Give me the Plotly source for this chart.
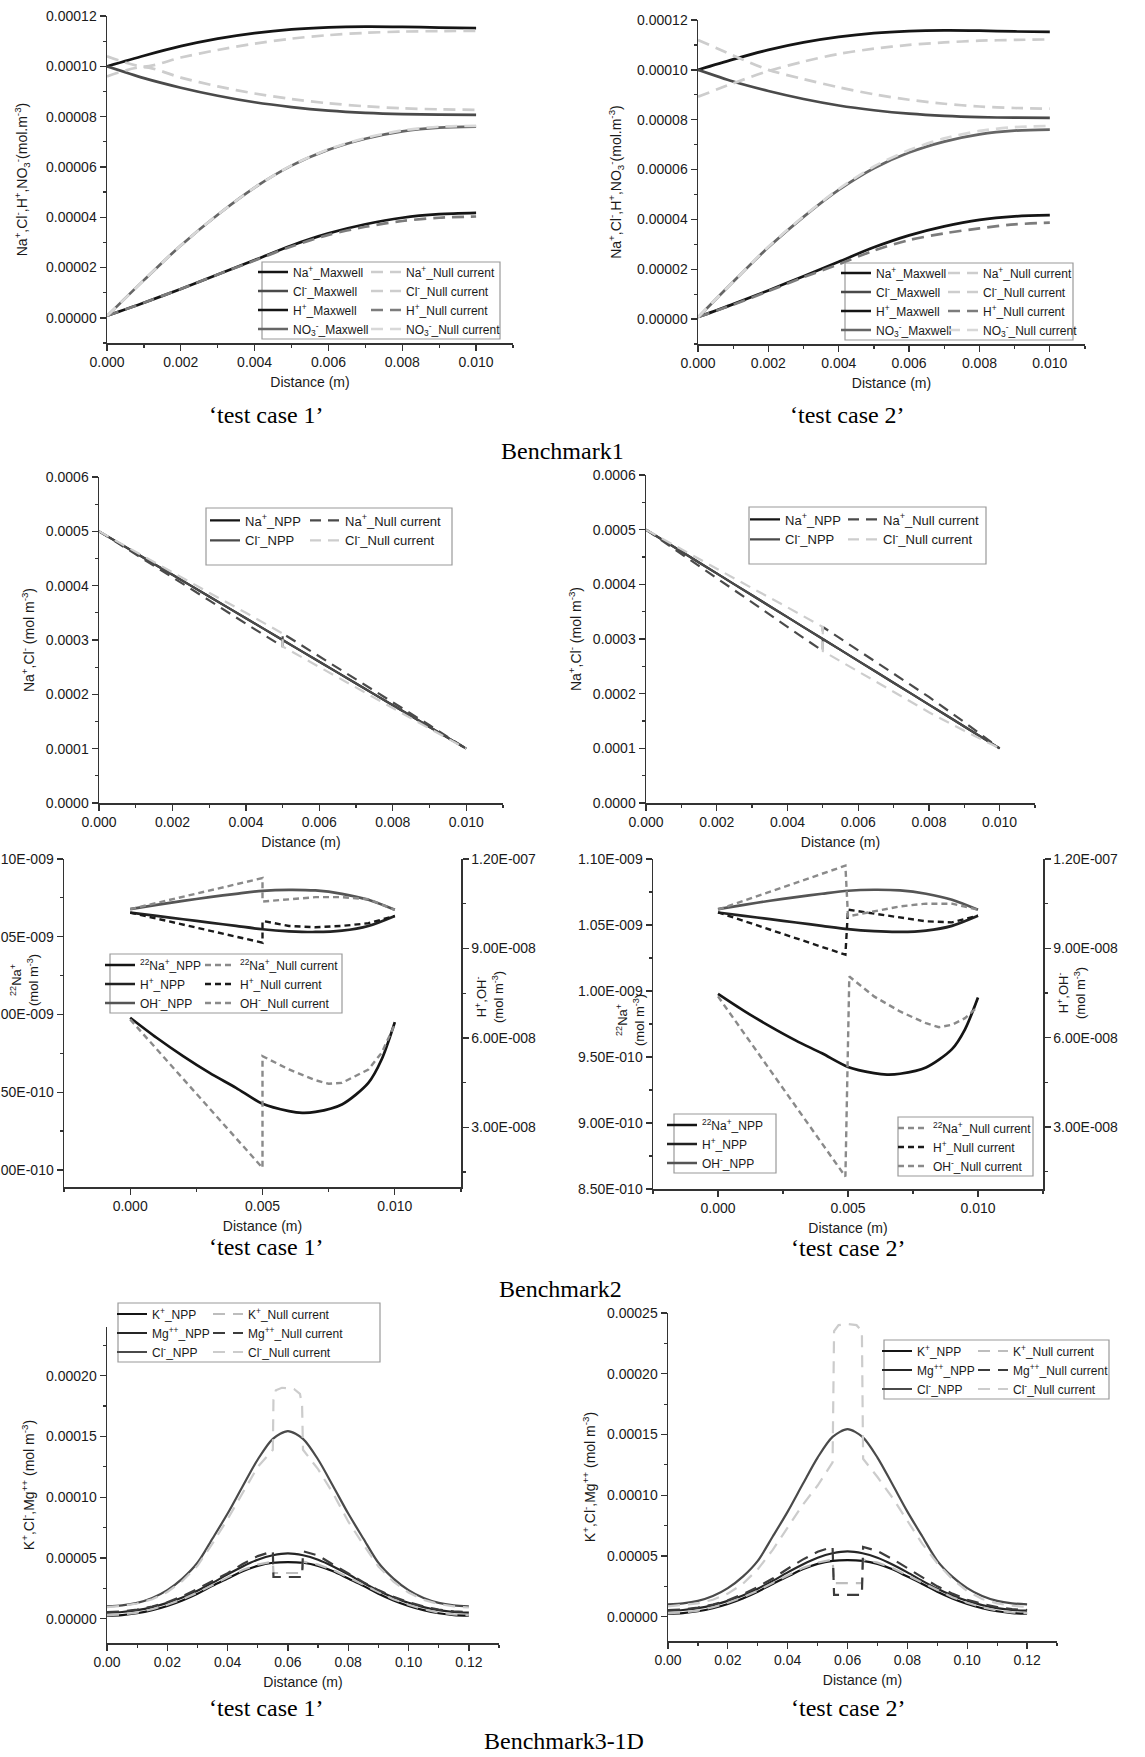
import plotly.graph_objects as go

W, H = 1145, 1757
FONT = "Liberation Sans, Arial, sans-serif"
SERIF = "Liberation Serif, Times New Roman, serif"

# ---------------- Benchmark 1 (values in 1e-5 mol m-3) ----------------
B1_X = [0.000, 0.001, 0.002, 0.003, 0.004, 0.005, 0.006, 0.007, 0.008, 0.009, 0.010]
B1_NA_MAXWELL = [10.0, 10.42, 10.80, 11.10, 11.32, 11.47, 11.55, 11.58, 11.57, 11.54, 11.52]
B1_CL_MAXWELL = [10.0, 9.53, 9.15, 8.83, 8.57, 8.38, 8.24, 8.15, 8.10, 8.08, 8.07]
B1_H_MAXWELL = [0.08, 0.60, 1.15, 1.72, 2.30, 2.88, 3.36, 3.72, 3.98, 4.12, 4.17]
B1_NO3_MAXWELL = [0.07, 1.50, 2.88, 4.10, 5.18, 6.05, 6.68, 7.12, 7.41, 7.56, 7.60]
B1_TC1_NA_NULL = [10.4, 9.99, 10.35, 10.65, 10.90, 11.10, 11.24, 11.33, 11.38, 11.40, 11.41]
B1_TC1_CL_NULL = [9.6, 9.97, 9.55, 9.20, 8.92, 8.70, 8.53, 8.41, 8.33, 8.29, 8.27]
B1_TC1_H_NULL = [0.08, 0.60, 1.15, 1.72, 2.28, 2.84, 3.30, 3.62, 3.85, 3.98, 4.03]
B1_TC1_NO3_NULL = [0.07, 1.50, 2.88, 4.10, 5.18, 6.06, 6.70, 7.15, 7.45, 7.60, 7.63]
B1_TC2_NA_NULL = [8.92, 9.46, 9.95, 10.33, 10.64, 10.85, 11.00, 11.10, 11.17, 11.20, 11.22]
B1_TC2_CL_NULL = [11.20, 10.58, 10.00, 9.63, 9.30, 9.02, 8.80, 8.64, 8.53, 8.47, 8.44]
B1_TC2_H_NULL = [0.08, 0.58, 1.12, 1.68, 2.20, 2.75, 3.17, 3.44, 3.64, 3.80, 3.87]
B1_TC2_NO3_NULL = [0.07, 1.50, 2.90, 4.12, 5.22, 6.12, 6.78, 7.25, 7.55, 7.70, 7.75]

# ---------------- Benchmark 2, top (values in 1e-4 mol m-3) ----------------
B2_X = [0.000, 0.001, 0.002, 0.003, 0.004, 0.005, 0.006, 0.007, 0.008, 0.009, 0.010]
B2_NA_NPP = [5.0, 4.6, 4.2, 3.8, 3.4, 3.0, 2.6, 2.2, 1.8, 1.4, 1.0]
B2_CL_NPP = [5.0, 4.6, 4.2, 3.8, 3.4, 3.0, 2.6, 2.2, 1.8, 1.4, 1.0]
B2_NULL_X = [0.000, 0.001, 0.002, 0.003, 0.004, 0.005, 0.005, 0.006, 0.007, 0.008, 0.009, 0.010]
B2_TC1_NA_NULL = [5.0, 4.58, 4.15, 3.73, 3.30, 2.88, 3.12, 2.70, 2.28, 1.85, 1.43, 1.0]
B2_TC1_CL_NULL = [5.0, 4.62, 4.25, 3.87, 3.50, 3.12, 2.88, 2.50, 2.12, 1.75, 1.37, 1.0]
B2_TC2_NA_NULL = [5.0, 4.56, 4.11, 3.67, 3.22, 2.78, 3.22, 2.79, 2.37, 1.94, 1.48, 1.0]
B2_TC2_CL_NULL = [5.0, 4.64, 4.29, 3.93, 3.58, 3.22, 2.78, 2.41, 2.03, 1.66, 1.32, 1.0]

# ---------------- Benchmark 2, bottom ----------------
# 22Na+ in 1e-10 mol m-3 ; H+, OH- in 1e-8 mol m-3
NA22_X = [0.000, 0.001, 0.002, 0.003, 0.004, 0.005, 0.006, 0.0065, 0.007, 0.008, 0.009, 0.0095, 0.010]
NA22_NPP = [9.979, 9.850, 9.732, 9.624, 9.528, 9.425, 9.378, 9.367, 9.373, 9.421, 9.560, 9.710, 9.951]
HOH_X = [0.000, 0.001, 0.002, 0.003, 0.004, 0.005, 0.006, 0.007, 0.008, 0.009, 0.010]
OH_NPP = [10.317, 10.462, 10.597, 10.720, 10.833, 10.934, 10.967, 10.945, 10.833, 10.631, 10.294]
H_NPP = [10.204, 10.092, 9.980, 9.868, 9.755, 9.643, 9.576, 9.553, 9.598, 9.755, 10.092]

TC1_NA22_NULL_X = [0.000, 0.005, 0.005, 0.006, 0.007, 0.0075, 0.008, 0.009, 0.0095, 0.010]
TC1_NA22_NULL = [9.968, 9.013, 9.732, 9.646, 9.577, 9.554, 9.560, 9.646, 9.753, 9.936]
TC1_HOH_NULL_X = [0.000, 0.005, 0.005, 0.006, 0.007, 0.008, 0.009, 0.010]
TC1_OH_NULL = [10.317, 11.360, 10.575, 10.653, 10.720, 10.720, 10.653, 10.294]
TC1_H_NULL = [10.204, 9.194, 9.924, 9.755, 9.710, 9.755, 9.845, 10.092]

TC2_NA22_NULL_X = [0.000, 0.0049, 0.00505, 0.006, 0.007, 0.008, 0.0085, 0.009, 0.0095, 0.010]
TC2_NA22_NULL = [9.959, 8.594, 10.110, 9.959, 9.845, 9.756, 9.726, 9.744, 9.794, 9.883]
TC2_HOH_NULL_X = [0.000, 0.0049, 0.005, 0.006, 0.007, 0.008, 0.009, 0.010]
TC2_OH_NULL = [10.299, 11.776, 10.075, 10.243, 10.410, 10.500, 10.500, 10.299]
TC2_H_NULL = [10.209, 8.787, 10.299, 10.164, 10.019, 9.907, 9.873, 10.097]

# ---------------- Benchmark 3-1D (values in 1e-5 mol m-3) ----------------
B3_X = [0.000, 0.005, 0.010, 0.015, 0.020, 0.025, 0.030, 0.035, 0.040, 0.045, 0.050, 0.055,
        0.060, 0.065, 0.070, 0.075, 0.080, 0.085, 0.090, 0.095, 0.100, 0.105, 0.110, 0.115, 0.120]
B3_K_NPP = [0.25, 0.30, 0.45, 0.70, 1.05, 1.50, 2.05, 2.70, 3.30, 3.90, 4.35, 4.60,
            4.66, 4.60, 4.35, 3.90, 3.30, 2.70, 2.05, 1.50, 1.05, 0.70, 0.45, 0.30, 0.25]
B3_MG_NPP = [0.50, 0.55, 0.70, 0.95, 1.30, 1.75, 2.30, 2.95, 3.65, 4.30, 4.85, 5.22,
             5.38, 5.22, 4.85, 4.30, 3.65, 2.95, 2.30, 1.75, 1.30, 0.95, 0.70, 0.55, 0.50]
B3_CL_NPP = [1.02, 1.10, 1.30, 1.70, 2.35, 3.30, 4.60, 6.60, 8.65, 10.9, 13.1, 14.8,
             15.44, 14.8, 13.1, 10.9, 8.65, 6.60, 4.60, 3.30, 2.35, 1.70, 1.30, 1.10, 1.02]

TC1_B3_NULL_X = [0.000, 0.005, 0.010, 0.015, 0.020, 0.025, 0.030, 0.035, 0.040, 0.045, 0.050, 0.055,
                 0.0552, 0.056, 0.058, 0.060, 0.062, 0.064, 0.0647, 0.065,
                 0.070, 0.075, 0.080, 0.085, 0.090, 0.095, 0.100, 0.105, 0.110, 0.115, 0.120]
TC1_B3_K_NULL = [0.30, 0.35, 0.50, 0.78, 1.15, 1.60, 2.15, 2.80, 3.40, 4.00, 4.45, 4.70,
                 3.76, 3.76, 3.76, 3.76, 3.76, 3.76, 3.76, 4.70,
                 4.45, 4.00, 3.40, 2.80, 2.15, 1.60, 1.15, 0.78, 0.50, 0.35, 0.30]
TC1_B3_MG_NULL = [0.55, 0.60, 0.75, 1.00, 1.35, 1.85, 2.45, 3.10, 3.75, 4.50, 5.15, 5.55,
                  3.43, 3.43, 3.43, 3.43, 3.43, 3.43, 3.43, 5.55,
                  5.20, 4.45, 3.70, 3.00, 2.35, 1.80, 1.35, 1.00, 0.75, 0.60, 0.55]
TC1_B3_CL_NULL = [0.95, 1.05, 1.25, 1.60, 2.20, 3.10, 4.35, 6.20, 8.20, 10.4, 12.5, 13.9,
                  18.0, 18.8, 19.0, 18.95, 18.9, 18.5, 17.5, 13.9,
                  12.3, 10.3, 8.00, 6.10, 4.30, 3.05, 2.15, 1.55, 1.20, 1.02, 0.92]

TC2_B3_NULL_X = [0.000, 0.005, 0.010, 0.015, 0.020, 0.025, 0.030, 0.035, 0.040, 0.045, 0.050, 0.055,
                 0.0555, 0.057, 0.060, 0.063, 0.0648, 0.0652,
                 0.070, 0.075, 0.080, 0.085, 0.090, 0.095, 0.100, 0.105, 0.110, 0.115, 0.120]
TC2_B3_K_NULL = [0.30, 0.35, 0.50, 0.78, 1.15, 1.60, 2.15, 2.80, 3.40, 4.00, 4.45, 4.70,
                 2.77, 2.77, 2.77, 2.77, 2.77, 4.70,
                 4.45, 4.00, 3.40, 2.80, 2.15, 1.60, 1.15, 0.78, 0.50, 0.35, 0.30]
TC2_B3_MG_NULL = [0.55, 0.60, 0.75, 1.00, 1.35, 1.85, 2.45, 3.15, 3.95, 4.70, 5.35, 5.75,
                  1.79, 1.79, 1.79, 1.79, 1.79, 5.75,
                  5.40, 4.75, 4.00, 3.20, 2.50, 1.90, 1.40, 1.05, 0.80, 0.62, 0.55]
TC2_B3_CL_NULL = [0.85, 0.95, 1.10, 1.40, 1.90, 2.70, 3.90, 5.50, 7.40, 9.20, 10.8, 12.7,
                  23.5, 24.0, 24.1, 24.0, 23.5, 13.0,
                  11.5, 9.80, 7.90, 6.00, 4.40, 3.10, 2.10, 1.45, 1.10, 0.90, 0.80]

# ---------------- tick labels ----------------
NA22_TICKS_TC1 = [9.0e-10, 9.5e-10, 1.0e-9, 1.05e-9, 1.1e-9]
NA22_LABELS_TC1 = ["9.00E-010", "9.50E-010", "1.00E-009", "1.05E-009", "1.10E-009"]
NA22_TICKS_TC2 = [8.5e-10, 9.0e-10, 9.5e-10, 1.0e-9, 1.05e-9, 1.1e-9]
NA22_LABELS_TC2 = ["8.50E-010", "9.00E-010", "9.50E-010", "1.00E-009", "1.05E-009", "1.10E-009"]
HOH_TICKS = [3.0e-8, 6.0e-8, 9.0e-8, 1.2e-7]
HOH_LABELS = ["3.00E-008", "6.00E-008", "9.00E-008", "1.20E-007"]


def sc(vals, f):
    return [v * f for v in vals]


def px(x):
    return x / W


def py(y):
    return 1 - y / H


fig = go.Figure()


def line(x, y, name, color, xa, ya, legend, dash="solid", width=2.7, shape="spline"):
    fig.add_trace(go.Scatter(
        x=x, y=y, name=name, mode="lines", xaxis=xa, yaxis=ya, legend=legend,
        line=dict(color=color, width=width, dash=dash, shape=shape, smoothing=0.8),
        hoverinfo="skip"))


BLACK = "#151515"
DARK = "#4a4a4a"
MID = "#7c7c7c"
LIGHT = "#cdcdcd"

# ---- Panel 1 & 2 (Benchmark 1) ----
D1 = "12px,7px"
for (xa, ya, lgL, lgR, na_n, cl_n, h_n, no3_n) in [
        ("x", "y", "legend", "legend2", B1_TC1_NA_NULL, B1_TC1_CL_NULL, B1_TC1_H_NULL, B1_TC1_NO3_NULL),
        ("x2", "y2", "legend3", "legend4", B1_TC2_NA_NULL, B1_TC2_CL_NULL, B1_TC2_H_NULL, B1_TC2_NO3_NULL)]:
    line(B1_X, sc(B1_NA_MAXWELL, 1e-5), "Na<sup>+</sup>_Maxwell", BLACK, xa, ya, lgL)
    line(B1_X, sc(B1_CL_MAXWELL, 1e-5), "Cl<sup>-</sup>_Maxwell", DARK, xa, ya, lgL)
    line(B1_X, sc(B1_H_MAXWELL, 1e-5), "H<sup>+</sup>_Maxwell", BLACK, xa, ya, lgL)
    line(B1_X, sc(B1_NO3_MAXWELL, 1e-5), "NO<sub>3</sub><sup>-</sup>_Maxwell", "#666666", xa, ya, lgL)
    line(B1_X, sc(na_n, 1e-5), "Na<sup>+</sup>_Null current", LIGHT, xa, ya, lgR, D1)
    line(B1_X, sc(cl_n, 1e-5), "Cl<sup>-</sup>_Null current", LIGHT, xa, ya, lgR, D1)
    line(B1_X, sc(h_n, 1e-5), "H<sup>+</sup>_Null current", MID, xa, ya, lgR, D1)
    line(B1_X, sc(no3_n, 1e-5), "NO<sub>3</sub><sup>-</sup>_Null current", "#d8d8d8", xa, ya, lgR, D1)

# ---- Panel 3 & 4 (Benchmark 2 top) ----
D2 = "11px,7px"
for (xa, ya, lgL, lgR, na_n, cl_n) in [
        ("x3", "y3", "legend5", "legend6", B2_TC1_NA_NULL, B2_TC1_CL_NULL),
        ("x4", "y4", "legend7", "legend8", B2_TC2_NA_NULL, B2_TC2_CL_NULL)]:
    line(B2_X, sc(B2_NA_NPP, 1e-4), "Na<sup>+</sup>_NPP", BLACK, xa, ya, lgL, width=2.2)
    line(B2_X, sc(B2_CL_NPP, 1e-4), "Cl<sup>-</sup>_NPP", DARK, xa, ya, lgL, width=2.2)
    line(B2_NULL_X, sc(na_n, 1e-4), "Na<sup>+</sup>_Null current", DARK, xa, ya, lgR, D2, 2.2, "linear")
    line(B2_NULL_X, sc(cl_n, 1e-4), "Cl<sup>-</sup>_Null current", LIGHT, xa, ya, lgR, D2, 2.2, "linear")

# ---- Panel 5 & 6 (Benchmark 2 bottom) ----
D3 = "6px,4px"
for (xa, ya, yr, lgL, lgR, nx, nn, hx, ohn, hn) in [
        ("x5", "y5", "y9", "legend9", "legend10", TC1_NA22_NULL_X, TC1_NA22_NULL, TC1_HOH_NULL_X, TC1_OH_NULL, TC1_H_NULL),
        ("x6", "y6", "y10", "legend11", "legend12", TC2_NA22_NULL_X, TC2_NA22_NULL, TC2_HOH_NULL_X, TC2_OH_NULL, TC2_H_NULL)]:
    line(NA22_X, sc(NA22_NPP, 1e-10), "<sup>22</sup>Na<sup>+</sup>_NPP", BLACK, xa, ya, lgL)
    line(HOH_X, sc(H_NPP, 1e-8), "H<sup>+</sup>_NPP", "#222222", xa, yr, lgL)
    line(HOH_X, sc(OH_NPP, 1e-8), "OH<sup>-</sup>_NPP", "#555555", xa, yr, lgL)
    line(nx, sc(nn, 1e-10), "<sup>22</sup>Na<sup>+</sup>_Null current", "#8a8a8a", xa, ya, lgR, D3, 2.4, "linear")
    line(hx, sc(hn, 1e-8), "H<sup>+</sup>_Null current", "#1a1a1a", xa, yr, lgR, D3, 2.4, "linear")
    line(hx, sc(ohn, 1e-8), "OH<sup>-</sup>_Null current", "#8a8a8a", xa, yr, lgR, D3, 2.4, "linear")

# ---- Panel 7 & 8 (Benchmark 3-1D) ----
D4 = "12px,8px"
for (xa, ya, lgL, lgR, nx, kn, mn, cn) in [
        ("x7", "y7", "legend13", "legend14", TC1_B3_NULL_X, TC1_B3_K_NULL, TC1_B3_MG_NULL, TC1_B3_CL_NULL),
        ("x8", "y8", "legend15", "legend16", TC2_B3_NULL_X, TC2_B3_K_NULL, TC2_B3_MG_NULL, TC2_B3_CL_NULL)]:
    line(B3_X, sc(B3_K_NPP, 1e-5), "K<sup>+</sup>_NPP", BLACK, xa, ya, lgL, width=2.2)
    line(B3_X, sc(B3_MG_NPP, 1e-5), "Mg<sup>++</sup>_NPP", "#262626", xa, ya, lgL, width=2.2)
    line(B3_X, sc(B3_CL_NPP, 1e-5), "Cl<sup>-</sup>_NPP", DARK, xa, ya, lgL, width=2.2)
    line(nx, sc(kn, 1e-5), "K<sup>+</sup>_Null current", "#bdbdbd", xa, ya, lgR, D4, 2.2, "linear")
    line(nx, sc(mn, 1e-5), "Mg<sup>++</sup>_Null current", "#3c3c3c", xa, ya, lgR, D4, 2.2, "linear")
    line(nx, sc(cn, 1e-5), "Cl<sup>-</sup>_Null current", "#cccccc", xa, ya, lgR, D4, 2.2, "linear")

# ---------------- axes ----------------
AXC = "#333333"
TICKFONT = dict(family=FONT, size=14, color="#1a1a1a")
TITLEFONT = dict(family=FONT, size=14, color="#1a1a1a")


def axis(x0, x1, rng, anchor, **kw):
    d = dict(domain=[x0, x1], range=rng, anchor=anchor, showline=True, linecolor=AXC, linewidth=1.5,
             ticks="outside", ticklen=6, tickwidth=1.3, tickcolor=AXC, showgrid=False, zeroline=False,
             tickfont=TICKFONT, title_font=TITLEFONT, automargin=False, title_standoff=8)
    d.update(kw)
    return d


def minor(dt):
    return dict(ticks="outside", ticklen=3, tickwidth=1.2, tickcolor=AXC, dtick=dt, showgrid=False)


def minor_arr(vals):
    return dict(ticks="outside", ticklen=3, tickwidth=1.2, tickcolor=AXC, tickmode="array",
                tickvals=vals, showgrid=False)


B1_YT = "Na<sup>+</sup>,Cl<sup>-</sup>,H<sup>+</sup>,NO<sub>3</sub><sup>-</sup>(mol.m<sup>-3</sup>)"
B2_YT = "Na<sup>+</sup>,Cl<sup>-</sup> (mol m<sup>-3</sup>)"
B3_YT = "K<sup>+</sup>,Cl<sup>-</sup>,Mg<sup>++</sup> (mol m<sup>-3</sup>)"

lay = {}
# panel 1
lay["xaxis"] = axis(px(107), px(513), [0, 0.011], "y", dtick=0.002, tick0=0, tickformat=".3f",
                    minor=minor(0.001), title_text="Distance (m)")
lay["yaxis"] = axis(py(343), py(16), [-0.00001, 0.00012], "x", dtick=0.00002, tick0=0, tickformat=".5f",
                    minor=minor(0.00001), title_text=B1_YT, title_standoff=15)
# panel 2
lay["xaxis2"] = axis(px(698), px(1085), [0, 0.011], "y2", dtick=0.002, tick0=0, tickformat=".3f",
                     minor=minor(0.001), title_text="Distance (m)")
lay["yaxis2"] = axis(py(344), py(20), [-0.00001, 0.00012], "x2", dtick=0.00002, tick0=0, tickformat=".5f",
                     minor=minor(0.00001), title_text=B1_YT, title_standoff=12)
# panel 3
lay["xaxis3"] = axis(px(99), px(503), [0, 0.011], "y3", dtick=0.002, tick0=0, tickformat=".3f",
                     minor=minor(0.001), title_text="Distance (m)")
lay["yaxis3"] = axis(py(803), py(477), [0, 0.0006], "x3", dtick=0.0001, tick0=0, tickformat=".4f",
                     minor=minor(0.00005), title_text=B2_YT)
# panel 4
lay["xaxis4"] = axis(px(646), px(1035), [0, 0.011], "y4", dtick=0.002, tick0=0, tickformat=".3f",
                     minor=minor(0.001), title_text="Distance (m)")
lay["yaxis4"] = axis(py(803), py(475), [0, 0.0006], "x4", dtick=0.0001, tick0=0, tickformat=".4f",
                     minor=minor(0.00005), title_text=B2_YT)
# panel 5
lay["xaxis5"] = axis(px(64), px(461), [-0.0025, 0.0125], "y5", dtick=0.005, tick0=0, tickformat=".3f",
                     minor=minor(0.0025), title_text="Distance (m)")
lay["yaxis5"] = axis(py(1187), py(859), [8.89e-10, 1.1e-9], "x5", tickmode="array",
                     tickvals=NA22_TICKS_TC1, ticktext=NA22_LABELS_TC1,
                     minor=minor_arr([9.25e-10, 9.75e-10, 1.025e-9, 1.075e-9]))
lay["yaxis9"] = axis(0, 1, [1.0e-8, 1.2e-7], "x5", overlaying="y5", side="right", tickmode="array",
                     tickvals=HOH_TICKS, ticktext=HOH_LABELS,
                     minor=minor_arr([1.5e-8, 4.5e-8, 7.5e-8, 1.05e-7]))
lay["yaxis9"].pop("domain")
# panel 6
lay["xaxis6"] = axis(px(653), px(1043), [-0.0025, 0.0125], "y6", dtick=0.005, tick0=0, tickformat=".3f",
                     minor=minor(0.0025), title_text="Distance (m)")
lay["yaxis6"] = axis(py(1189), py(859), [8.5e-10, 1.1e-9], "x6", tickmode="array",
                     tickvals=NA22_TICKS_TC2, ticktext=NA22_LABELS_TC2,
                     minor=minor_arr([8.75e-10, 9.25e-10, 9.75e-10, 1.025e-9, 1.075e-9]))
lay["yaxis10"] = axis(0, 1, [0.92e-8, 1.2e-7], "x6", overlaying="y6", side="right", tickmode="array",
                      tickvals=HOH_TICKS, ticktext=HOH_LABELS,
                      minor=minor_arr([1.5e-8, 4.5e-8, 7.5e-8, 1.05e-7]))
lay["yaxis10"].pop("domain")
# panel 7
lay["xaxis7"] = axis(px(107), px(499), [0, 0.13], "y7", dtick=0.02, tick0=0, tickformat=".2f",
                     minor=minor(0.01), title_text="Distance (m)")
lay["yaxis7"] = axis(py(1643), py(1327), [-0.00002, 0.00024], "x7", dtick=0.00005, tick0=0, tickformat=".5f",
                     minor=minor(0.000025), title_text=B3_YT)
# panel 8
lay["xaxis8"] = axis(px(668), px(1057), [0, 0.13], "y8", dtick=0.02, tick0=0, tickformat=".2f",
                     minor=minor(0.01), title_text="Distance (m)")
lay["yaxis8"] = axis(py(1641), py(1313), [-0.00002, 0.00025], "x8", dtick=0.00005, tick0=0, tickformat=".5f",
                     minor=minor(0.000025), title_text=B3_YT)

# ---------------- legends ----------------
LEG_POS = {  # name: (text-left px, first-row centre px, font size)
    "legend": (293, 272, 12), "legend2": (406, 272, 12),
    "legend3": (876, 273, 12), "legend4": (983, 273, 12),
    "legend5": (245, 520, 13), "legend6": (345, 520, 13),
    "legend7": (785, 519, 13), "legend8": (883, 519, 13),
    "legend9": (140, 965, 12), "legend10": (240, 965, 12),
    "legend11": (702, 1125, 12), "legend12": (933, 1128, 12),
    "legend13": (152, 1314, 12), "legend14": (248, 1314, 12),
    "legend15": (917, 1351, 12), "legend16": (1013, 1351, 12),
}
for name, (tx, ry, fs) in LEG_POS.items():
    lay[name] = dict(x=px(tx - 40), y=py(ry - 14.5), xanchor="left", yanchor="top",
                     bgcolor="rgba(0,0,0,0)", borderwidth=0, tracegroupgap=0,
                     font=dict(family=FONT, size=fs, color="#1a1a1a"))

BOXES = [(262, 262, 500, 339), (845, 263, 1073, 340), (206, 508, 452, 565), (749, 507, 986, 564),
         (110, 954, 342, 1013), (674, 1114, 776, 1173), (898, 1117, 1033, 1176),
         (118, 1303, 380, 1362), (884, 1340, 1109, 1399)]
shapes = [dict(type="rect", xref="paper", yref="paper", x0=px(a), y0=py(d), x1=px(c), y1=py(b),
               line=dict(color="#9a9a9a", width=1.2), layer="above") for (a, b, c, d) in BOXES]

# ---------------- captions & rotated two-line axis titles ----------------
CAPTIONS = [("‘test case 1’", 266, 415), ("‘test case 2’", 847, 415), ("Benchmark1", 562, 451),
            ("‘test case 1’", 266, 1247), ("‘test case 2’", 848, 1248), ("Benchmark2", 560, 1289),
            ("‘test case 1’", 266, 1708), ("‘test case 2’", 848, 1708), ("Benchmark3-1D", 564, 1741)]
ann = [dict(text=t, x=px(x), y=py(y), xref="paper", yref="paper", showarrow=False,
            xanchor="center", yanchor="middle", font=dict(family=SERIF, size=24, color="#000000"))
       for (t, x, y) in CAPTIONS]
SIDE_TITLES = [("<sup>22</sup>Na<sup>+</sup><br>(mol m<sup>-3</sup>)", 25, 980),
               ("H<sup>+</sup>,OH<sup>-</sup><br>(mol m<sup>-3</sup>)", 489, 997),
               ("<sup>22</sup>Na<sup>+</sup><br>(mol m<sup>-3</sup>)", 630, 1020),
               ("H<sup>+</sup>,OH<sup>-</sup><br>(mol m<sup>-3</sup>)", 1071, 993)]
ann += [dict(text=t, x=px(x), y=py(y), xref="paper", yref="paper", showarrow=False, textangle=-90,
             xanchor="center", yanchor="middle", font=dict(family=FONT, size=13, color="#1a1a1a"))
        for (t, x, y) in SIDE_TITLES]

fig.update_layout(width=W, height=H, margin=dict(l=0, r=0, t=0, b=0, autoexpand=False),
                  paper_bgcolor="white", plot_bgcolor="white",
                  font=dict(family=FONT, size=13, color="#1a1a1a"),
                  shapes=shapes, annotations=ann, **lay)

fig.write_html("out.html", config={"displayModeBar": False, "staticPlot": True},
               post_script="document.body.style.margin='0';")
